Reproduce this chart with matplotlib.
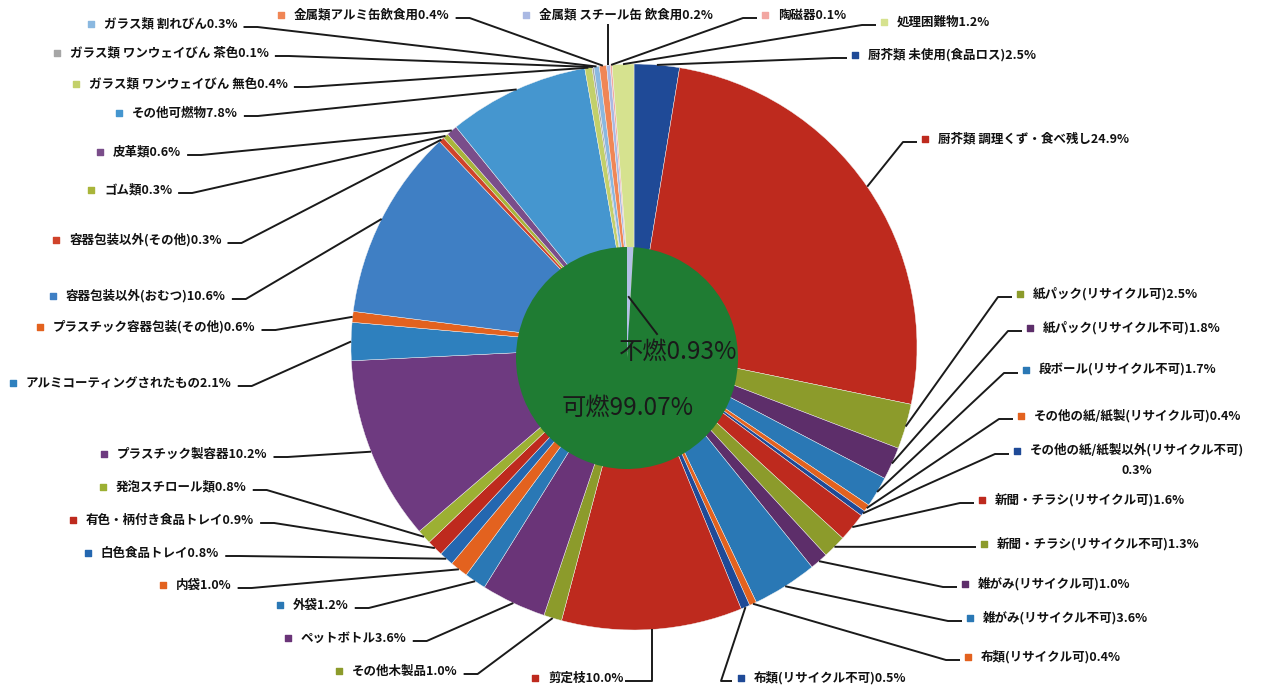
import matplotlib
matplotlib.use('Agg')
import matplotlib.pyplot as plt
import numpy as np

plt.rcParams['font.family'] = ['Noto Sans CJK JP', 'DejaVu Sans']

# ---------------- data ----------------
categories = [
    '厨芥類 未使用(食品ロス)', '厨芥類 調理くず・食べ残し', '紙パック(リサイクル可)',
    '紙パック(リサイクル不可)', '段ボール(リサイクル不可)', 'その他の紙/紙製(リサイクル可)',
    'その他の紙/紙製以外(リサイクル不可)', '新聞・チラシ(リサイクル可)', '新聞・チラシ(リサイクル不可)',
    '雑がみ(リサイクル可)', '雑がみ(リサイクル不可)', '布類(リサイクル可)',
    '布類(リサイクル不可)', '剪定枝', 'その他木製品',
    'ペットボトル', '外袋', '内袋',
    '白色食品トレイ', '有色・柄付き食品トレイ', '発泡スチロール類',
    'プラスチック製容器', 'アルミコーティングされたもの', 'プラスチック容器包装(その他)',
    '容器包装以外(おむつ)', '容器包装以外(その他)', 'ゴム類',
    '皮革類', 'その他可燃物', 'ガラス類 ワンウェイびん 無色',
    'ガラス類 ワンウェイびん 茶色', 'ガラス類 割れびん', '金属類アルミ缶飲食用',
    '金属類 スチール缶 飲食用', '陶磁器', '処理困難物',
]
values = [
    2.5, 24.9, 2.5,
    1.8, 1.7, 0.4,
    0.3, 1.6, 1.3,
    1.0, 3.6, 0.4,
    0.5, 10.0, 1.0,
    3.6, 1.2, 1.0,
    0.8, 0.9, 0.8,
    10.2, 2.1, 0.6,
    10.6, 0.3, 0.3,
    0.6, 7.8, 0.4,
    0.1, 0.3, 0.4,
    0.2, 0.1, 1.2,
]
inner_labels = ['不燃', '可燃']
inner_values = [0.93, 99.07]

# ---------------- style ----------------
DB, RD, OL, PU, BL, OR = '#1f4a97', '#be2a1e', '#8c9b2b', '#5d2e6a', '#2a78b5', '#e3621f'
colors = [
    DB, RD, OL, PU, BL, OR,
    DB, RD, OL, PU, BL, OR,
    DB, RD, OL, '#6a3478', BL, OR,
    '#2467b0', RD, '#9cb033', '#6e3a80', '#2e80be', OR,
    '#3f7fc4', '#d0432a', '#a9b53a', '#7a4d8a', '#4596cf', '#c3d06a',
    '#a6a6a6', '#8ab8e0', '#f08655', '#aab9e3', '#f2a7a2', '#d6e28f',
]
inner_colors = ['#b3c0e6', '#1f7c33']

# label layout (marker x, marker y in pixels from top-left, leader style)
layout = [
    (855, 55, 'R'), (925, 139, 'R'), (1020, 294, 'R'),
    (1030, 328, 'R'), (1026, 370, 'R'), (1021, 416, 'R'),
    (1017, 451, 'R2'), (982, 500, 'R'), (984, 544, 'R'),
    (965, 584, 'R'), (970, 618, 'R'), (968, 657, 'R'),
    (741, 678, 'BR'), (535, 678, 'BL'), (339, 671, 'L'),
    (288, 638, 'L'), (280, 605, 'L'), (163, 585, 'L'),
    (88, 553, 'L'), (73, 520, 'L'), (103, 487, 'L'),
    (104, 454, 'L'), (13, 383, 'L'), (40, 327, 'L'),
    (53, 296, 'L'), (56, 240, 'L'), (91, 190, 'L'),
    (100, 152, 'L'), (119, 113, 'L'), (76, 84, 'L'),
    (57, 53, 'L'), (91, 24, 'L'), (281, 15, 'L'),
    (526, 15, 'V'), (765, 15, 'R'), (884, 22, 'R'),
]

W, H = 1271, 692
fig = plt.figure(figsize=(W / 100, H / 100), dpi=100)
ax = fig.add_axes([0, 0, 1, 1])

OC = (634, H - 347)
OR_ = 283
IC = (627, H - 358)
IR = 111

wedges, _ = ax.pie(values, colors=colors, startangle=90, counterclock=False,
                   center=OC, radius=OR_, wedgeprops=dict(linewidth=0.3, edgecolor='#f4f4f4'))
iw, _ = ax.pie(inner_values, colors=inner_colors, startangle=90, counterclock=False,
               center=IC, radius=IR, wedgeprops=dict(linewidth=0))
ax.set_xlim(0, W)
ax.set_ylim(0, H)
ax.set_aspect('auto')
ax.axis('off')

FS = 9
texts = []
for cat, val, col, (mx, my, kind) in zip(categories, values, colors, layout):
    y = H - my
    if kind == 'R2':
        label = f'{cat}\n{val:.1f}%'
        t = ax.text(mx + 13, y + 8, label, ha='left', va='top', multialignment='center',
                    fontsize=FS, fontweight='bold', color='#111111', linespacing=1.75)
    else:
        label = f'{cat}{val:.1f}%'
        t = ax.text(mx + 13, y, label, ha='left', va='center',
                    fontsize=FS, fontweight='bold', color='#111111')
    ax.scatter([mx], [y], marker='s', s=20, color=col, zorder=5)
    texts.append(t)

fig.canvas.draw()
renderer = fig.canvas.get_renderer()

for w, t, (mx, my, kind) in zip(wedges, texts, layout):
    ang = np.deg2rad((w.theta1 + w.theta2) / 2)
    wx = OC[0] + OR_ * np.cos(ang)
    wy = OC[1] + OR_ * np.sin(ang)
    bb = t.get_window_extent(renderer)
    y = H - my - 3
    if kind == 'L':
        xs = [bb.x1 + 6, bb.x1 + 20, wx]
        ys = [y, y, wy]
    elif kind in ('R', 'R2'):
        xs = [mx - 8, mx - 22, wx]
        ys = [y, y, wy]
    elif kind == 'BR':
        xs = [mx - 9, mx - 20, wx]
        ys = [y, y, wy]
    elif kind == 'BL':
        xs = [bb.x1 + 2, wx, wx]
        ys = [y, y, wy]
    else:  # 'V'
        xs = [wx, wx]
        ys = [H - my - 9, wy]
    ax.plot(xs, ys, color='#1a1a1a', lw=1.4, solid_capstyle='butt', zorder=4)

# inner ring labels
ax.text(678, H - 352, f'{inner_labels[0]}{inner_values[0]:.2f}%', ha='center', va='center',
        fontsize=17.5, color='#1a1a1a', zorder=6)
ax.text(628, H - 408, f'{inner_labels[1]}{inner_values[1]:.2f}%', ha='center', va='center',
        fontsize=17.5, color='#1a1a1a', zorder=6)
ang = np.deg2rad((iw[0].theta1 + iw[0].theta2) / 2)
ax.plot([657, IC[0] + 0.55 * IR * np.cos(ang)], [H - 334, IC[1] + 0.55 * IR * np.sin(ang)],
        color='#1a1a1a', lw=1.4, zorder=6)

fig.savefig('out.png', dpi=100)
